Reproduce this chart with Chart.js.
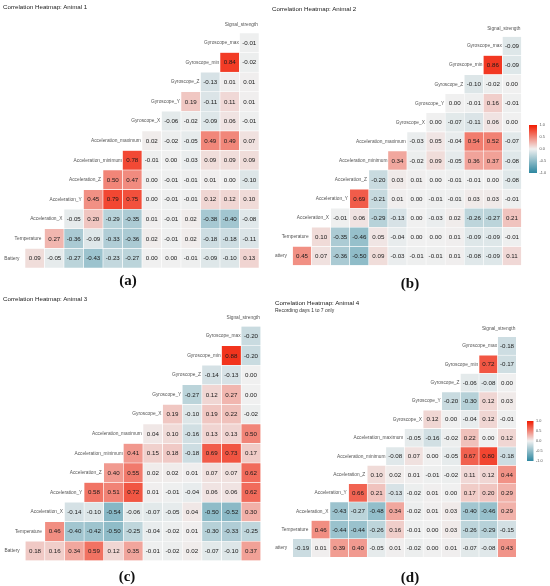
<!DOCTYPE html>
<html>
<head>
<meta charset="utf-8">
<script src="https://cdn.jsdelivr.net/npm/chart.js@4.4.1/dist/chart.umd.min.js"></script>
<style>
html, body { margin: 0; padding: 0; background: #fff; }
#page { position: relative; width: 550px; height: 586px; overflow: hidden; font-family: "Liberation Sans", Arial, sans-serif; }
canvas { position: absolute; }
.title { position: absolute; font-size: 6.2px; color: #1a1a1a; white-space: nowrap; line-height: 1; }
.sub { position: absolute; font-size: 5px; color: #333; white-space: nowrap; line-height: 1; }
.cap { position: absolute; width: 40px; text-align: center; line-height: 1; font-family: "Liberation Serif", "Times New Roman", serif; font-weight: bold; font-size: 15px; color: #111; }
</style>
</head>
<body>
<div id="page">
  <canvas id="c1" width="275" height="290" style="left:0;top:0"></canvas>
  <canvas id="c2" width="275" height="290" style="left:275px;top:0"></canvas>
  <canvas id="c3" width="275" height="296" style="left:0;top:290px"></canvas>
  <canvas id="c4" width="275" height="296" style="left:275px;top:290px"></canvas>

  <div class="title" style="left:3px;top:4px">Correlation Heatmap: Animal 1</div>
  <div class="title" style="left:272px;top:6px">Correlation Heatmap: Animal 2</div>
  <div class="title" style="left:3px;top:296px">Correlation Heatmap: Animal 3</div>
  <div class="title" style="left:275px;top:300px">Correlation Heatmap: Animal 4</div>
  <div class="sub" style="left:275px;top:307.5px">Recording days 1 to 7 only</div>

  <div class="cap" style="left:108px;top:273px">(a)</div>
  <div class="cap" style="left:390px;top:276px">(b)</div>
  <div class="cap" style="left:107px;top:569px">(c)</div>
  <div class="cap" style="left:390px;top:570px">(d)</div>
</div>

<script>
// variables, bottom row first; rows use VARS[0..11], columns VARS[1..12]
const VARS = ['Battery', 'Temperature', 'Acceleration_X', 'Acceleration_Y', 'Acceleration_Z',
    'Acceleration_minimum', 'Acceleration_maximum', 'Gyroscope_X', 'Gyroscope_Y', 'Gyroscope_Z',
    'Gyroscope_min', 'Gyroscope_max', 'Signal_strength'];
const ROWS = VARS.slice(0, 12);
const COLS = VARS.slice(1);
const LEGEND_TICKS = ['1.0', '0.5', '0.0', '-0.5', '-1.0'];

// each row starts at the column right after its own variable
const ANIMAL_1 = [
    [0.09, -0.05, -0.27, -0.43, -0.23, -0.27, 0.00, 0.00, -0.01, -0.09, -0.10, 0.13],
    [0.27, -0.36, -0.09, -0.33, -0.36, 0.02, -0.01, 0.02, -0.18, -0.18, -0.11],
    [-0.05, 0.20, -0.29, -0.35, 0.01, -0.01, 0.02, -0.38, -0.40, -0.08],
    [0.45, 0.79, 0.75, 0.00, -0.01, -0.01, 0.12, 0.12, 0.10],
    [0.50, 0.47, 0.00, -0.01, -0.01, 0.01, 0.00, -0.10],
    [0.78, -0.01, 0.00, -0.03, 0.09, 0.09, 0.09],
    [0.02, -0.02, -0.05, 0.49, 0.49, 0.07],
    [-0.06, -0.02, -0.09, 0.06, -0.01],
    [0.19, -0.11, 0.11, 0.01],
    [-0.13, 0.01, 0.01],
    [0.84, -0.02],
    [-0.01],
];
const ANIMAL_2 = [
    [0.45, 0.07, -0.36, -0.50, 0.09, -0.03, -0.01, -0.01, 0.01, -0.08, -0.09, 0.11],
    [0.10, -0.35, -0.46, 0.05, -0.04, 0.00, 0.00, 0.01, -0.09, -0.09, -0.01],
    [-0.01, 0.06, -0.29, -0.13, 0.00, -0.03, 0.02, -0.26, -0.27, 0.21],
    [0.69, -0.21, 0.01, 0.00, -0.01, -0.01, 0.03, 0.03, -0.01],
    [-0.20, 0.03, 0.01, 0.00, -0.01, -0.01, 0.00, -0.08],
    [0.34, -0.02, 0.09, -0.05, 0.36, 0.37, -0.08],
    [-0.03, 0.05, -0.04, 0.54, 0.52, -0.07],
    [0.00, -0.07, -0.11, 0.06, 0.00],
    [0.00, -0.01, 0.16, -0.01],
    [-0.10, -0.02, 0.00],
    [0.86, -0.09],
    [-0.09],
];
const ANIMAL_3 = [
    [0.18, 0.16, 0.34, 0.59, 0.12, 0.35, -0.01, -0.02, 0.02, -0.07, -0.10, 0.37],
    [0.46, -0.40, -0.42, -0.50, -0.25, -0.04, -0.02, 0.01, -0.30, -0.33, -0.25],
    [-0.14, -0.10, -0.54, -0.06, -0.07, -0.05, 0.04, -0.50, -0.52, 0.30],
    [0.58, 0.51, 0.72, 0.01, -0.01, -0.04, 0.06, 0.06, 0.62],
    [0.40, 0.55, 0.02, 0.02, 0.01, 0.07, 0.07, 0.62],
    [0.41, 0.15, 0.18, -0.18, 0.69, 0.73, 0.17],
    [0.04, 0.10, -0.16, 0.13, 0.13, 0.50],
    [0.19, -0.10, 0.19, 0.22, -0.02],
    [-0.27, 0.12, 0.27, 0.00],
    [-0.14, -0.13, 0.00],
    [0.88, -0.20],
    [-0.20],
];
const ANIMAL_4 = [
    [-0.19, 0.01, 0.39, 0.40, -0.05, 0.01, -0.02, 0.00, 0.01, -0.07, -0.08, 0.43],
    [0.46, -0.44, -0.44, -0.26, 0.16, -0.01, 0.00, 0.03, -0.26, -0.29, -0.15],
    [-0.43, -0.27, -0.48, 0.34, -0.02, 0.01, 0.03, -0.40, -0.46, 0.29],
    [0.66, 0.21, -0.13, -0.02, 0.01, 0.00, 0.17, 0.20, 0.29],
    [0.10, 0.02, 0.01, -0.01, -0.02, 0.11, 0.12, 0.44],
    [-0.08, 0.07, 0.00, -0.05, 0.67, 0.80, -0.18],
    [-0.05, -0.16, -0.02, 0.22, 0.00, 0.12],
    [0.12, 0.00, -0.04, 0.12, -0.01],
    [-0.20, -0.30, 0.12, 0.03],
    [-0.06, -0.08, 0.00],
    [0.72, -0.17],
    [-0.18],
];

const HIGH = [242, 26, 0];
const MID = [240, 240, 240];
const LOW = [45, 135, 160];

// gap between a row label and its first cell, in px
const LABEL_GAP = [5.5, 3, 1.6, 1.8, 2, 0.4, 1.2, 1.2, 1, 1, 0.8, 0.6];

function corrColor(v) {
    const end = v >= 0 ? HIGH : LOW;
    const t = Math.min(1, Math.abs(v));
    const c = MID.map((m, i) => Math.round(m + (end[i] - m) * t));
    return `rgb(${c[0]},${c[1]},${c[2]})`;
}

const LABEL_FONT = '4.8px "Liberation Sans", Arial, sans-serif';
const VALUE_FONT = '6.2px "Liberation Sans", Arial, sans-serif';

const cellText = {
    id: 'cellText',
    afterDatasetsDraw(chart, args, opts) {
        const { ctx } = chart;
        ctx.save();
        chart.data.datasets.forEach((ds, r) => {
            const meta = chart.getDatasetMeta(r);
            meta.data.forEach((el, j) => {
                if (ds.corr[j] === null) return;
                const p = el.getProps(['x', 'y', 'base', 'width'], true);
                const cy = (p.y + p.base) / 2;
                ctx.font = VALUE_FONT;
                ctx.fillStyle = '#1a1a1a';
                ctx.textAlign = 'center';
                ctx.textBaseline = 'middle';
                ctx.fillText(ds.corr[j].toFixed(2), p.x, cy + 0.3);

                ctx.font = LABEL_FONT;
                ctx.fillStyle = '#555';
                if (j === r) {
                    ctx.textAlign = 'right';
                    ctx.fillText(ROWS[r], p.x - p.width / 2 - LABEL_GAP[r], cy);
                }
                if (r === ROWS.length - 1 && j === COLS.length - 1) {
                    ctx.textAlign = 'right';
                    ctx.fillText(COLS[j], p.x + p.width / 2 - 1, cy - (p.base - p.y) * 0.93);
                }
            });
        });

        // colour key
        if (opts.box) {
            const b = opts.box;
            const g = ctx.createLinearGradient(0, b.y, 0, b.y + b.h);
            g.addColorStop(0, corrColor(1));
            g.addColorStop(0.25, corrColor(0.5));
            g.addColorStop(0.5, corrColor(0));
            g.addColorStop(0.75, corrColor(-0.5));
            g.addColorStop(1, corrColor(-1));
            ctx.fillStyle = g;
            ctx.fillRect(b.x, b.y, b.w, b.h);
            ctx.font = '3.8px "Liberation Sans", Arial, sans-serif';
            ctx.fillStyle = '#555';
            ctx.textAlign = 'left';
            ctx.textBaseline = 'middle';
            LEGEND_TICKS.forEach((t, i) => {
                ctx.fillText(t, b.x + b.w + 2.5, b.y + b.h * i / (LEGEND_TICKS.length - 1));
            });
        }
        ctx.restore();
    }
};

function makePanel(id, rows, pad, box) {
    const datasets = rows.map((vals, r) => ({
        data: COLS.map((_, j) => (j >= r ? [r - 0.5, r + 0.5] : null)),
        corr: COLS.map((_, j) => (j >= r ? vals[j - r] : null)),
        backgroundColor: COLS.map((_, j) => (j >= r ? corrColor(vals[j - r]) : 'rgba(0,0,0,0)')),
        borderColor: '#ffffff',
        borderWidth: 0.6,
        borderSkipped: false,
        grouped: false,
        barPercentage: 1,
        categoryPercentage: 1,
    }));

    return new Chart(document.getElementById(id), {
        type: 'bar',
        data: { labels: COLS, datasets },
        options: {
            responsive: false,
            animation: false,
            layout: { padding: pad },
            plugins: {
                legend: { display: false },
                tooltip: { enabled: false },
                cellText: { box },
            },
            scales: {
                x: { type: 'category', display: false, offset: true },
                y: { type: 'linear', display: false, min: -0.5, max: 11.5 },
            },
        },
        plugins: [cellText],
    });
}

makePanel('c1', ANIMAL_1, { left: 25, right: 16, top: 33, bottom: 22 }, null);
makePanel('c2', ANIMAL_2, { left: 17.5, right: 28.5, top: 36.5, bottom: 24.5 }, { x: 254, y: 125, w: 8, h: 48 });
makePanel('c3', ANIMAL_3, { left: 25.2, right: 14.2, top: 36.2, bottom: 25.2 }, null);
makePanel('c4', ANIMAL_4, { left: 17.7, right: 33.7, top: 46.8, bottom: 28.8 }, { x: 252, y: 131, w: 6.5, h: 40 });
</script>
</body>
</html>
